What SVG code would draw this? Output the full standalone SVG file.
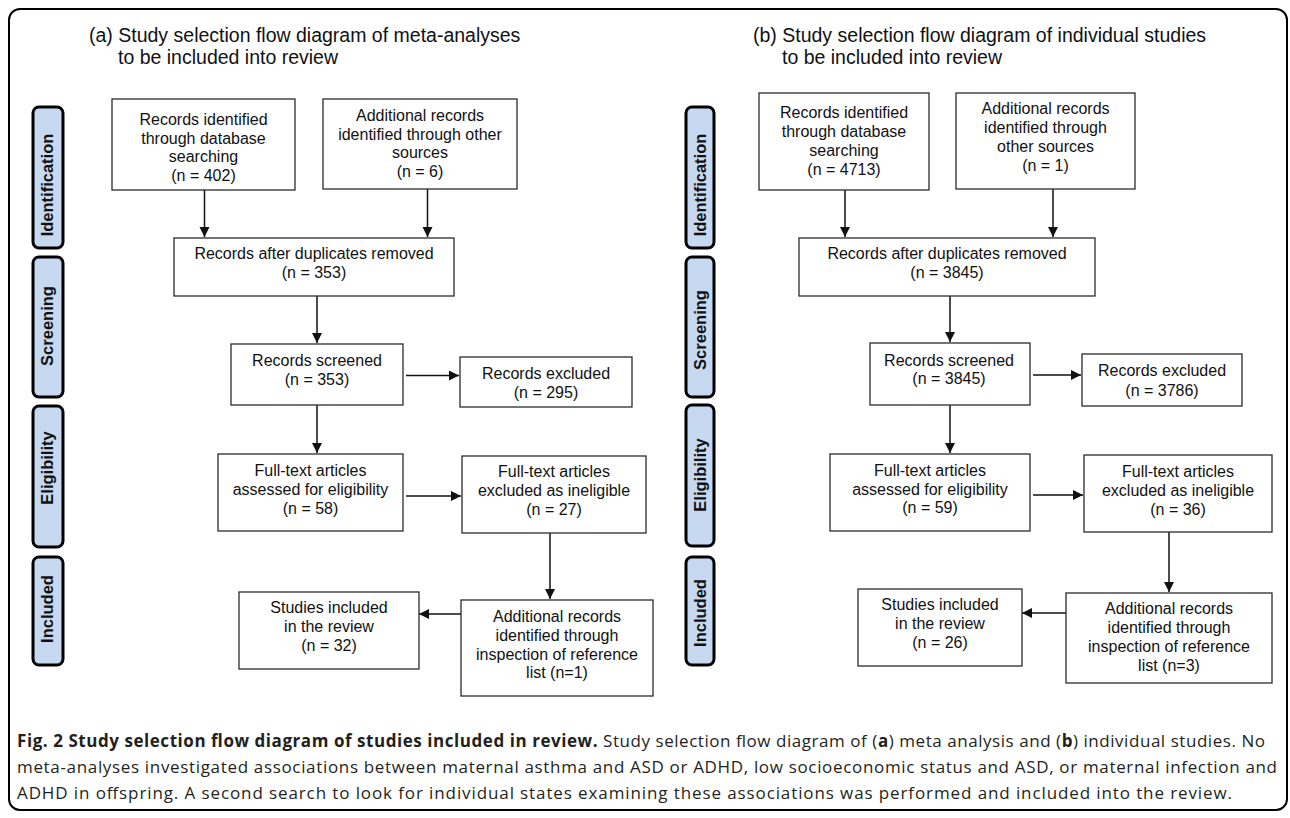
<svg xmlns="http://www.w3.org/2000/svg" width="1290" height="818" viewBox="0 0 1290 818">
<style>
.bg{fill:#fff}
.frame{fill:none;stroke:#000;stroke-width:2}
.box{fill:#fff;stroke:#2b2b2b;stroke-width:1.3}
.lbl{fill:#c6d9f1;stroke:#000;stroke-width:3}
.t{font-family:"Liberation Sans",Arial,sans-serif;font-size:16px;fill:#111;text-anchor:middle}
.lt{font-family:"Liberation Sans",Arial,sans-serif;font-weight:bold;font-size:16.5px;fill:#111;text-anchor:middle}
.ti{font-family:"Liberation Sans",Arial,sans-serif;font-size:19.5px;fill:#111}
.cap{font-family:"Open Sans","Noto Sans",sans-serif;font-size:17px;fill:#231f20}
.b{font-weight:bold}
.conn line{stroke:#111;stroke-width:1.5;marker-end:url(#ah)}
</style>
<defs>
<marker id="ah" markerUnits="userSpaceOnUse" markerWidth="11" markerHeight="11" refX="10" refY="5" orient="auto"><path d="M0,0 L10,5 L0,10 z" fill="#111"/></marker>
</defs>
<rect class="bg" x="0" y="0" width="1290" height="818"/>
<rect class="frame" x="9" y="9" width="1278" height="801" rx="11"/>

<g id="title-a">
<text class="ti" x="89" y="42">(a) Study selection flow diagram of meta-analyses</text>
<text class="ti" x="118" y="64">to be included into review</text>
</g>
<g id="title-b">
<text class="ti" x="753" y="42">(b) Study selection flow diagram of individual studies</text>
<text class="ti" x="782" y="64">to be included into review</text>
</g>

<g id="stage-labels-a">
<g id="a-identification"><rect class="lbl" x="33" y="107" width="30" height="141" rx="6"/><text class="lt" transform="translate(52.5,185) rotate(-90)">Identification</text></g>
<g id="a-screening"><rect class="lbl" x="33" y="257" width="30" height="140" rx="6"/><text class="lt" transform="translate(52.5,326) rotate(-90)">Screening</text></g>
<g id="a-eligibility"><rect class="lbl" x="33" y="406" width="30" height="141" rx="6"/><text class="lt" transform="translate(52.5,468) rotate(-90)">Eligibility</text></g>
<g id="a-included"><rect class="lbl" x="33" y="557" width="30" height="108" rx="6"/><text class="lt" transform="translate(52.5,609) rotate(-90)">Included</text></g>
</g>
<g id="stage-labels-b">
<g id="b-identification"><rect class="lbl" x="686" y="107" width="28" height="141" rx="6"/><text class="lt" transform="translate(705.5,185) rotate(-90)">Identification</text></g>
<g id="b-screening"><rect class="lbl" x="686" y="257" width="28" height="140" rx="6"/><text class="lt" transform="translate(705.5,330) rotate(-90)">Screening</text></g>
<g id="b-eligibility"><rect class="lbl" x="686" y="405" width="28" height="141" rx="6"/><text class="lt" transform="translate(705.5,475) rotate(-90)">Eligibility</text></g>
<g id="b-included"><rect class="lbl" x="686" y="557" width="28" height="108" rx="6"/><text class="lt" transform="translate(705.5,613) rotate(-90)">Included</text></g>
</g>

<g id="connectors" class="conn">
<line x1="204.5" y1="190" x2="204.5" y2="237"/>
<line x1="427.5" y1="189" x2="427.5" y2="237"/>
<line x1="317" y1="296" x2="317" y2="343"/>
<line x1="317" y1="405" x2="317" y2="453"/>
<line x1="406" y1="375.5" x2="459" y2="375.5"/>
<line x1="406" y1="496" x2="461" y2="496"/>
<line x1="550" y1="533" x2="550" y2="599"/>
<line x1="461" y1="614" x2="419" y2="614"/>
<line x1="845" y1="190" x2="845" y2="237"/>
<line x1="1053" y1="189" x2="1053" y2="237"/>
<line x1="950" y1="296" x2="950" y2="342"/>
<line x1="950" y1="405" x2="950" y2="453"/>
<line x1="1033" y1="375" x2="1081" y2="375"/>
<line x1="1033" y1="495" x2="1083" y2="495"/>
<line x1="1169" y1="532" x2="1169" y2="592"/>
<line x1="1066" y1="613" x2="1022" y2="613"/>
</g>

<g id="a-records-db"><rect class="box" x="112" y="99" width="183" height="91"/>
<text class="t" x="203.5" y="125">Records identified</text><text class="t" x="203.5" y="143.5">through database</text><text class="t" x="203.5" y="162">searching</text><text class="t" x="203.5" y="180.5">(n = 402)</text></g>
<g id="a-records-other"><rect class="box" x="323" y="99" width="194" height="90"/>
<text class="t" x="420" y="121">Additional records</text><text class="t" x="420" y="139.5">identified through other</text><text class="t" x="420" y="158">sources</text><text class="t" x="420" y="176.5">(n = 6)</text></g>
<g id="a-dedup"><rect class="box" x="174" y="238" width="280" height="58"/>
<text class="t" x="314" y="259">Records after duplicates removed</text><text class="t" x="314" y="278">(n = 353)</text></g>
<g id="a-screened"><rect class="box" x="231" y="344" width="172" height="61"/>
<text class="t" x="317" y="366">Records screened</text><text class="t" x="317" y="385">(n = 353)</text></g>
<g id="a-fulltext"><rect class="box" x="218" y="454" width="185" height="77"/>
<text class="t" x="310.5" y="476">Full-text articles</text><text class="t" x="310.5" y="495">assessed for eligibility</text><text class="t" x="310.5" y="514">(n = 58)</text></g>
<g id="a-excluded"><rect class="box" x="460" y="357" width="172" height="50"/>
<text class="t" x="546" y="379">Records excluded</text><text class="t" x="546" y="398">(n = 295)</text></g>
<g id="a-ineligible"><rect class="box" x="462" y="456" width="184" height="77"/>
<text class="t" x="554" y="477">Full-text articles</text><text class="t" x="554" y="496">excluded as ineligible</text><text class="t" x="554" y="515">(n = 27)</text></g>
<g id="a-additional-ref"><rect class="box" x="461" y="600" width="192" height="96"/>
<text class="t" x="557" y="622">Additional records</text><text class="t" x="557" y="641">identified through</text><text class="t" x="557" y="659.5">inspection of reference</text><text class="t" x="557" y="678">list (n=1)</text></g>
<g id="a-included-studies"><rect class="box" x="239" y="592" width="180" height="77"/>
<text class="t" x="329" y="613">Studies included</text><text class="t" x="329" y="632">in the review</text><text class="t" x="329" y="651">(n = 32)</text></g>

<g id="b-records-db"><rect class="box" x="759" y="93" width="170" height="97"/>
<text class="t" x="844" y="118">Records identified</text><text class="t" x="844" y="137">through database</text><text class="t" x="844" y="156">searching</text><text class="t" x="844" y="174.5">(n = 4713)</text></g>
<g id="b-records-other"><rect class="box" x="956" y="93" width="179" height="96"/>
<text class="t" x="1045.5" y="114">Additional records</text><text class="t" x="1045.5" y="133">identified through</text><text class="t" x="1045.5" y="152">other sources</text><text class="t" x="1045.5" y="171">(n = 1)</text></g>
<g id="b-dedup"><rect class="box" x="799" y="238" width="296" height="58"/>
<text class="t" x="947" y="259">Records after duplicates removed</text><text class="t" x="947" y="278">(n = 3845)</text></g>
<g id="b-screened"><rect class="box" x="870" y="343" width="160" height="62"/>
<text class="t" x="949" y="366">Records screened</text><text class="t" x="949" y="384">(n = 3845)</text></g>
<g id="b-fulltext"><rect class="box" x="830" y="454" width="200" height="77"/>
<text class="t" x="930" y="476">Full-text articles</text><text class="t" x="930" y="494.5">assessed for eligibility</text><text class="t" x="930" y="513">(n = 59)</text></g>
<g id="b-excluded"><rect class="box" x="1082" y="354" width="160" height="52"/>
<text class="t" x="1162" y="376">Records excluded</text><text class="t" x="1162" y="396">(n = 3786)</text></g>
<g id="b-ineligible"><rect class="box" x="1084" y="455" width="188" height="77"/>
<text class="t" x="1178" y="477">Full-text articles</text><text class="t" x="1178" y="496">excluded as ineligible</text><text class="t" x="1178" y="515">(n = 36)</text></g>
<g id="b-additional-ref"><rect class="box" x="1066" y="593" width="206" height="90"/>
<text class="t" x="1169" y="614">Additional records</text><text class="t" x="1169" y="633">identified through</text><text class="t" x="1169" y="652">inspection of reference</text><text class="t" x="1169" y="671">list (n=3)</text></g>
<g id="b-included-studies"><rect class="box" x="858" y="589" width="164" height="77"/>
<text class="t" x="940" y="610">Studies included</text><text class="t" x="940" y="629">in the review</text><text class="t" x="940" y="648">(n = 26)</text></g>

<g id="caption">
<text class="cap" x="17" y="747" textLength="1248"><tspan class="b">Fig. 2 Study selection flow diagram of studies included in review.</tspan> Study selection flow diagram of (<tspan class="b">a</tspan>) meta analysis and (<tspan class="b">b</tspan>) individual studies. No</text>
<text class="cap" x="17" y="773" textLength="1260">meta-analyses investigated associations between maternal asthma and ASD or ADHD, low socioeconomic status and ASD, or maternal infection and</text>
<text class="cap" x="17" y="799" textLength="1215">ADHD in offspring. A second search to look for individual states examining these associations was performed and included into the review.</text>
</g>
</svg>
